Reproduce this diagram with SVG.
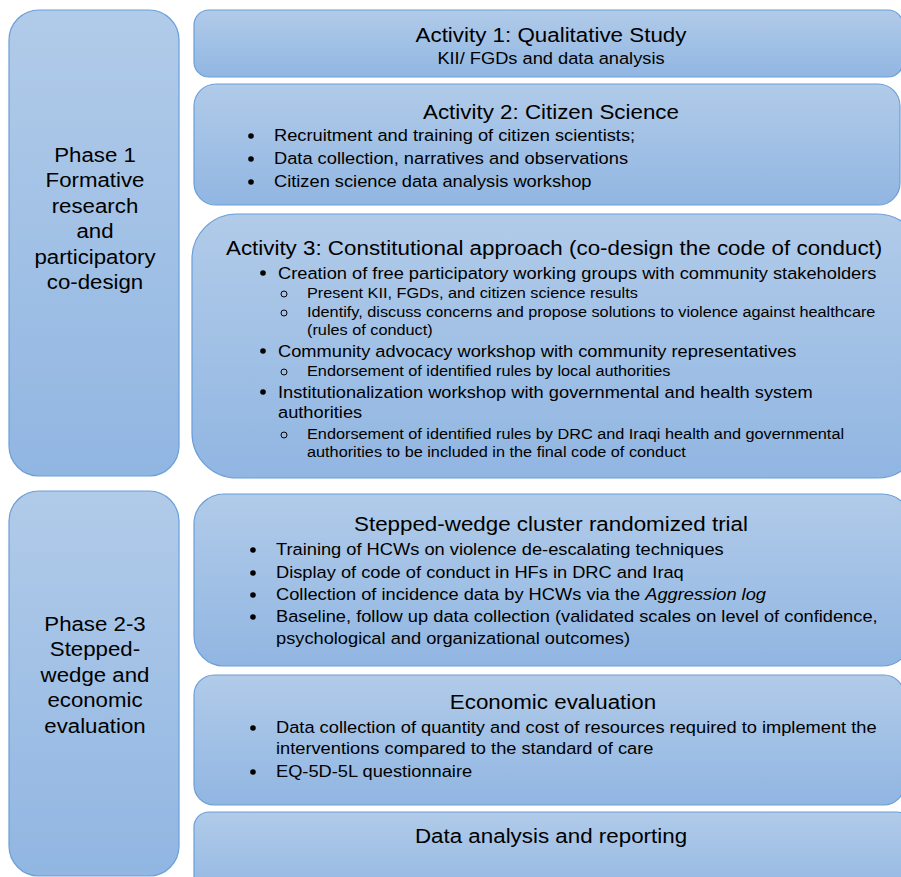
<svg xmlns="http://www.w3.org/2000/svg" width="901" height="877" viewBox="0 0 901 877">
  <defs>
    <linearGradient id="fill" x1="0" y1="0" x2="0" y2="1">
      <stop offset="0" stop-color="#b1cbe9"/>
      <stop offset="1" stop-color="#91b6e2"/>
    </linearGradient>
    <style>
      .box { fill: url(#fill); stroke: #6a9fd9; stroke-width: 1.2; }
      text { font-family: "Liberation Sans", Arial, sans-serif; fill: #000;
             transform-box: fill-box; transform-origin: left center; }
      .ctr, .phase { text-anchor: middle; transform-origin: center; }
      .phase { font-size: 21px; transform: scaleX(1.06); }
      .title { font-size: 21px; transform: scaleX(1.065); }
      .item { font-size: 17px; transform: scaleX(1.075); }
      .sub { font-size: 15px; transform: scaleX(1.085); }
      .dot { fill: #000; }
      .ring { fill: none; stroke: #000; stroke-width: 1; }
    </style>
  </defs>

  <rect width="901" height="877" fill="#ffffff"/>

  <!-- Phase 1 -->
  <g id="phase1">
    <rect class="box" x="9" y="10" width="170" height="466" rx="30"/>
    <text class="phase" x="95" y="162">Phase 1</text>
    <text class="phase" x="95" y="187">Formative</text>
    <text class="phase" x="95" y="213">research</text>
    <text class="phase" x="95" y="238">and</text>
    <text class="phase" x="95" y="264">participatory</text>
    <text class="phase" x="95" y="289">co-design</text>
  </g>

  <!-- Activity 1 -->
  <g id="activity1">
    <rect class="box" x="194" y="10" width="709" height="67" rx="15"/>
    <text class="title ctr" x="551" y="42">Activity 1: Qualitative Study</text>
    <text class="item ctr" x="551" y="64">KII/ FGDs and data analysis</text>
  </g>

  <!-- Activity 2 -->
  <g id="activity2">
    <rect class="box" x="194" y="84" width="706" height="121" rx="22"/>
    <text class="title ctr" x="551" y="119">Activity 2: Citizen Science</text>
    <circle class="dot" cx="251" cy="136" r="2.8"/>
    <text class="item" x="274" y="141">Recruitment and training of citizen scientists;</text>
    <circle class="dot" cx="251" cy="159" r="2.8"/>
    <text class="item" x="274" y="164">Data collection, narratives and observations</text>
    <circle class="dot" cx="251" cy="182" r="2.8"/>
    <text class="item" x="274" y="187">Citizen science data analysis workshop</text>
  </g>

  <!-- Activity 3 -->
  <g id="activity3">
    <rect class="box" x="192" y="214" width="730" height="264" rx="45"/>
    <text class="title" x="226" y="255">Activity 3: Constitutional approach (co-design the code of conduct)</text>
    <circle class="dot" cx="263" cy="273" r="2.8"/>
    <text class="item" x="278" y="279">Creation of free participatory working groups with community stakeholders</text>
    <circle class="ring" cx="284" cy="294" r="3"/>
    <text class="sub" x="307" y="298">Present KII, FGDs, and citizen science results</text>
    <circle class="ring" cx="284" cy="313" r="3"/>
    <text class="sub" x="307" y="317">Identify, discuss concerns and propose solutions to violence against healthcare</text>
    <text class="sub" x="307" y="335">(rules of conduct)</text>
    <circle class="dot" cx="263" cy="351" r="2.8"/>
    <text class="item" x="278" y="357">Community advocacy workshop with community representatives</text>
    <circle class="ring" cx="284" cy="372" r="3"/>
    <text class="sub" x="307" y="376">Endorsement of identified rules by local authorities</text>
    <circle class="dot" cx="263" cy="392" r="2.8"/>
    <text class="item" x="278" y="398">Institutionalization workshop with governmental and health system</text>
    <text class="item" x="278" y="418">authorities</text>
    <circle class="ring" cx="284" cy="435" r="3"/>
    <text class="sub" x="307" y="439">Endorsement of identified rules by DRC and Iraqi health and governmental</text>
    <text class="sub" x="307" y="457">authorities to be included in the final code of conduct</text>
  </g>

  <!-- Phase 2-3 -->
  <g id="phase23">
    <rect class="box" x="9" y="491" width="170" height="385" rx="30"/>
    <text class="phase" x="95" y="631">Phase 2-3</text>
    <text class="phase" x="95" y="656">Stepped-</text>
    <text class="phase" x="95" y="682">wedge and</text>
    <text class="phase" x="95" y="707">economic</text>
    <text class="phase" x="95" y="733">evaluation</text>
  </g>

  <!-- Stepped-wedge trial -->
  <g id="trial">
    <rect class="box" x="194" y="494" width="718" height="172" rx="30"/>
    <text class="title ctr" x="551" y="531">Stepped-wedge cluster randomized trial</text>
    <circle class="dot" cx="253" cy="550" r="2.8"/>
    <text class="item" x="276" y="555">Training of HCWs on violence de-escalating techniques</text>
    <circle class="dot" cx="253" cy="573" r="2.8"/>
    <text class="item" x="276" y="578">Display of code of conduct in HFs in DRC and Iraq</text>
    <circle class="dot" cx="253" cy="595" r="2.8"/>
    <text class="item" x="276" y="600">Collection of incidence data by HCWs via the <tspan font-style="italic">Aggression log</tspan></text>
    <circle class="dot" cx="253" cy="617" r="2.8"/>
    <text class="item" x="276" y="622">Baseline, follow up data collection (validated scales on level of confidence,</text>
    <text class="item" x="276" y="644">psychological and organizational outcomes)</text>
  </g>

  <!-- Economic evaluation -->
  <g id="economic">
    <rect class="box" x="194" y="675" width="710" height="130" rx="20"/>
    <text class="title ctr" x="553" y="709">Economic evaluation</text>
    <circle class="dot" cx="253" cy="728" r="2.8"/>
    <text class="item" x="276" y="733">Data collection of quantity and cost of resources required to implement the</text>
    <text class="item" x="276" y="754">interventions compared to the standard of care</text>
    <circle class="dot" cx="253" cy="772" r="2.8"/>
    <text class="item" x="276" y="777">EQ-5D-5L questionnaire</text>
  </g>

  <!-- Data analysis -->
  <g id="reporting">
    <rect class="box" x="194" y="812" width="718" height="90" rx="15"/>
    <text class="title ctr" x="551" y="843">Data analysis and reporting</text>
  </g>

  <g id="connectors"/>
</svg>
